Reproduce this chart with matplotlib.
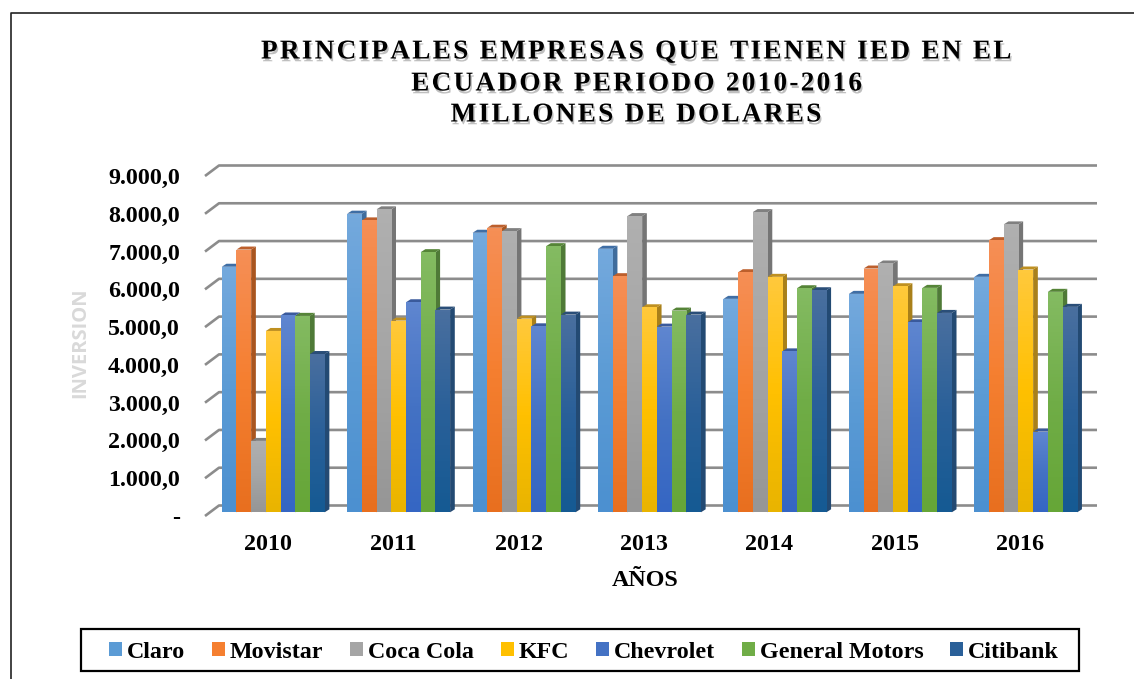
# coding:utf-8
import numpy as np
import matplotlib
matplotlib.use("Agg")
import matplotlib.pyplot as plt
import matplotlib.patheffects as pe
from matplotlib.colors import LinearSegmentedColormap
from matplotlib.lines import Line2D
from matplotlib.patches import Patch, Rectangle
from matplotlib.transforms import Affine2D

# Datos
years = ["2010", "2011", "2012", "2013", "2014", "2015", "2016"]
claro = [6500, 7905, 7400, 6976, 5650, 5782, 6233]
movistar = [6955, 7727, 7533, 6250, 6355, 6453, 7204]
coca_cola = [1890, 8020, 7443, 7841, 7947, 6586, 7621]
kfc = [4800, 5074, 5127, 5427, 6233, 5984, 6427]
chevrolet = [5210, 5560, 4923, 4915, 4260, 5030, 2138]
general_motors = [5200, 6886, 7045, 5340, 5931, 5941, 5836]
citibank = [4190, 5366, 5233, 5233, 5878, 5278, 5438]

names = ["Claro", "Movistar", "Coca Cola", "KFC", "Chevrolet", "General Motors", "Citibank"]
series = [claro, movistar, coca_cola, kfc, chevrolet, general_motors, citibank]
y_ticks = [0, 1000, 2000, 3000, 4000, 5000, 6000, 7000, 8000, 9000]
y_labels = ["-", "1.000,0", "2.000,0", "3.000,0", "4.000,0", "5.000,0",
            "6.000,0", "7.000,0", "8.000,0", "9.000,0"]
title_lines = ["PRINCIPALES EMPRESAS QUE TIENEN IED EN EL",
               "ECUADOR PERIODO 2010-2016",
               "MILLONES DE DOLARES"]

# claro arriba, medio, abajo, lado, tapa
colors = [
    ("#74a9dd", "#5b9bd5", "#4c90d0", "#3f6c9c", "#3f6ea5"),
    ("#f58f56", "#f57f30", "#e86f1f", "#a9551f", "#bd5f2c"),
    ("#b0b0b0", "#a5a5a5", "#969696", "#757575", "#808080"),
    ("#ffc93c", "#ffc000", "#e9b400", "#a9801a", "#bf9020"),
    ("#5f86d0", "#4472c4", "#3566c3", "#3a5a9c", "#3a5a9c"),
    ("#84bb62", "#70ad47", "#66a637", "#4f7a37", "#558437"),
    ("#4a6f9f", "#2a6099", "#155a93", "#234a73", "#2a4e78"),
]

W, H = 1134, 679
FONT = "Liberation Serif"
FS = 17.3
plt.rcParams["font.family"] = FONT
plt.rcParams["font.weight"] = "bold"

fig = plt.figure(figsize=(W / 100, H / 100), dpi=100, facecolor="white")
ax = fig.add_axes([205 / W, (H - 516) / H, 878 / W, 340 / H])
ax.set_xlim(-0.5, 6.5)
ax.set_ylim(0, 9000)
ax.patch.set_visible(False)
for s in ax.spines.values():
    s.set_visible(False)

# paredes del grafico 3D
grid_dx = 14 / (878 / 7)
grid_dy = 10.5 / (340 / 9000)
for v in y_ticks:
    ax.plot([-0.5, -0.5 + grid_dx, 6.5 + grid_dx], [v, v + grid_dy, v + grid_dy],
            color="#8c8c8c", lw=1.9, clip_on=False, zorder=1, solid_capstyle="butt")

# barras
front = ax.transData + Affine2D().translate(5.5, 3.7)
bar_w = 14.7 / (878 / 7)
depth_x = 4.7 / (878 / 7)
depth_y = 3 / (340 / 9000)
z = 2
for i in range(len(years)):
    for j, vals in enumerate(series):
        v = vals[i]
        x0 = i + (j - 3.5) * bar_w
        x1 = x0 + bar_w
        top, mid, low, side, cap = colors[j]
        ax.fill([x1, x1 + depth_x, x1 + depth_x, x1], [0, depth_y, v + depth_y, v],
                color=side, transform=front, clip_on=False, zorder=z, lw=0)
        ax.fill([x0, x0 + depth_x, x1 + depth_x, x1], [v, v + depth_y, v + depth_y, v],
                color=cap, transform=front, clip_on=False, zorder=z, lw=0)
        bar = ax.bar(x0, v, bar_w, align="edge", color=mid, transform=front,
                     clip_on=False, zorder=z, lw=0)[0]
        cmap = LinearSegmentedColormap.from_list("g", [top, mid, low])
        im = ax.imshow(np.linspace(0, 1, 64).reshape(-1, 1), cmap=cmap, aspect="auto",
                       extent=[x0, x1, 0, v], origin="upper", transform=front, zorder=z)
        im.set_clip_path(bar)
        z += 1
ax.set_xlim(-0.5, 6.5)
ax.set_ylim(0, 9000)

ax.set_yticks(y_ticks)
ax.set_yticklabels(y_labels, fontsize=FS)
ax.set_xticks(range(len(years)))
ax.set_xticklabels(years, fontsize=FS)
ax.tick_params(axis="y", length=0, pad=18)
ax.tick_params(axis="x", length=0, pad=13)

fig.text(645 / W, 1 - 580 / H, "AÑOS", fontsize=FS, ha="center", va="center")
fig.text(80 / W, 1 - 343 / H, "INVERSION", rotation=90, fontsize=14.5, color="#d9d9d9",
         family="Open Sans", ha="center", va="center")

# titulo con letras espaciadas y sombra
for line, y in zip(title_lines, [52, 84, 115]):
    fig.text(636 / W, 1 - y / H, "\u200a".join(line), fontsize=19.6, ha="center", va="center",
             path_effects=[pe.withSimplePatchShadow(offset=(1, -2), shadow_rgbFace="#808080", alpha=0.5)])

# leyenda
handles = [Patch(color=c[1], lw=0) for c in colors]
fig.legend(handles, names, ncol=7, frameon=False, fontsize=FS,
           loc="center", bbox_to_anchor=(584 / W, 1 - 652 / H),
           handlelength=13 / 24, handleheight=13 / 24, handletextpad=5 / 24,
           columnspacing=26.6 / 24, borderpad=0, borderaxespad=0)
fig.add_artist(Rectangle((81 / W, 1 - 671 / H), 998 / W, 42 / H, transform=fig.transFigure,
                         fill=False, edgecolor="black", lw=1.6))

# marco de la pagina
fig.add_artist(Line2D([11 / W, 11 / W, 1], [0, 1 - 13 / H, 1 - 13 / H], color="#222222", lw=1.2))

fig.savefig("out.png", dpi=100)
